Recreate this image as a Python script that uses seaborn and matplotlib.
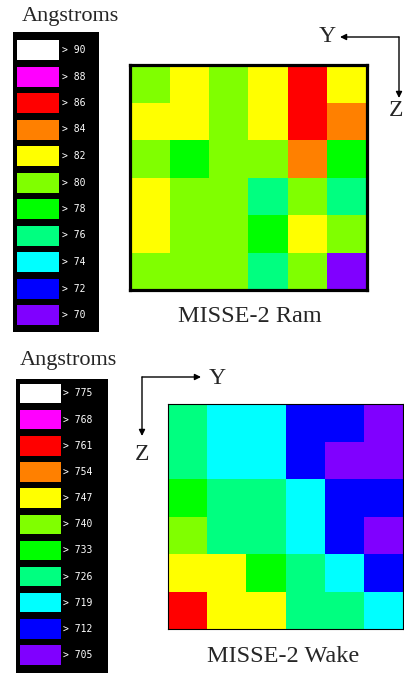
"""
MISSE-2 erosion maps (Ram / Wake) drawn as two 6x6 seaborn heatmaps,
each with a black stepped colour key on the left.
"""

import numpy as np
import matplotlib
matplotlib.use("Agg")
import matplotlib.pyplot as plt
from matplotlib.colors import ListedColormap, BoundaryNorm
import seaborn as sns

# === Data ===

# key colours, lowest level first
level_colors = ["#8000FF", "#0000FF", "#00FFFF", "#00FF80", "#00FF00", "#80FF00",
                "#FFFF00", "#FF8000", "#FF0000", "#FF00FF", "#FFFFFF"]

# lower bound of each colour band (Angstroms)
ram_levels = [70, 72, 74, 76, 78, 80, 82, 84, 86, 88, 90]
wake_levels = [705, 712, 719, 726, 733, 740, 747, 754, 761, 768, 775]

# cell values, rows top -> bottom
ram_values = [
    [81, 83, 81, 83, 87, 83],
    [83, 83, 81, 83, 87, 85],
    [81, 79, 81, 81, 85, 79],
    [83, 81, 81, 77, 81, 77],
    [83, 81, 81, 79, 83, 81],
    [81, 81, 81, 77, 81, 71],
]
wake_values = [
    [729, 722, 722, 715, 715, 708],
    [729, 722, 722, 715, 708, 708],
    [736, 729, 729, 722, 715, 715],
    [743, 729, 729, 722, 715, 708],
    [750, 750, 736, 729, 722, 715],
    [764, 750, 750, 729, 729, 722],
]

titles = ["MISSE-2 Ram", "MISSE-2 Wake"]

# === Figure ===

W, H = 404, 673
fig = plt.figure(figsize=(W / 100, H / 100), dpi=100)
sns.set_style("white")
plt.rcParams["font.family"] = ["Liberation Serif", "DejaVu Serif"]

cmap = ListedColormap(level_colors)


def box(x0, y0, x1, y1):
    # pixel box (top-left origin) -> figure fraction rect
    return [x0 / W, 1 - y1 / H, (x1 - x0) / W, (y1 - y0) / H]


def draw_key(rect, levels, first_center, spacing, sw_left, sw_width, sw_height, label_x):
    ax = fig.add_axes(box(*rect))
    ax.set_facecolor("black")
    box_w = rect[2] - rect[0]
    box_h = rect[3] - rect[1]
    n = len(levels)
    idx = np.arange(n)
    ax.barh(idx, 1, left=0, height=sw_height / spacing,
            color=level_colors[::-1], edgecolor="none")
    top = -first_center / spacing
    ax.set_ylim(top + box_h / spacing, top)
    ax.set_xlim(-sw_left / sw_width, (box_w - sw_left) / sw_width)
    for i, lv in zip(idx, levels[::-1]):
        ax.text((label_x - sw_left) / sw_width, i, f"> {lv}", color="white",
                fontsize=7, family="DejaVu Sans Mono", va="center", ha="left")
    ax.set_xticks([])
    ax.set_yticks([])
    for s in ax.spines.values():
        s.set_visible(False)
    return ax


def draw_map(rect, values, levels, lw):
    ax = fig.add_axes(box(*rect))
    bounds = levels + [levels[-1] + (levels[1] - levels[0])]
    norm = BoundaryNorm(bounds, cmap.N)
    sns.heatmap(np.array(values), cmap=cmap, norm=norm, cbar=False,
                xticklabels=False, yticklabels=False, ax=ax)
    for s in ax.spines.values():
        s.set_visible(True)
        s.set_color("black")
        s.set_linewidth(lw)
    return ax


# --- Ram panel ---
fig.text(70 / W, 1 - 16 / H, "Angstroms", fontsize=16, ha="center", va="center")
draw_key((13, 32, 99, 332), ram_levels, first_center=18, spacing=26.5,
         sw_left=4, sw_width=42, sw_height=20, label_x=49)
draw_map((130, 65, 367, 290), ram_values, ram_levels, lw=2.3)
fig.text(250 / W, 1 - 316 / H, titles[0], fontsize=17.5, ha="center", va="center")

arrow = dict(arrowstyle="-|>", color="black", lw=1, mutation_scale=9, shrinkA=0, shrinkB=0)
fig.add_artist(plt.Annotation("", xy=(340, H - 37), xytext=(399, H - 37),
                              xycoords="figure pixels", arrowprops=arrow))
fig.add_artist(plt.Annotation("", xy=(399, H - 98), xytext=(399, H - 37),
                              xycoords="figure pixels", arrowprops=arrow))
fig.text(327 / W, 1 - 36 / H, "Y", fontsize=17, ha="center", va="center")
fig.text(396 / W, 1 - 111 / H, "Z", fontsize=17, ha="center", va="center")

# --- Wake panel ---
fig.text(68 / W, 1 - 361 / H, "Angstroms", fontsize=16, ha="center", va="center")
draw_key((16, 379, 108, 673), wake_levels, first_center=14.5, spacing=26.15,
         sw_left=4, sw_width=41, sw_height=19.5, label_x=47)
draw_map((168, 404, 403, 629), wake_values, wake_levels, lw=0.8)
fig.text(283 / W, 1 - 657 / H, titles[1], fontsize=17.5, ha="center", va="center")

fig.add_artist(plt.Annotation("", xy=(201, H - 377), xytext=(142, H - 377),
                              xycoords="figure pixels", arrowprops=arrow))
fig.add_artist(plt.Annotation("", xy=(142, H - 436), xytext=(142, H - 377),
                              xycoords="figure pixels", arrowprops=arrow))
fig.text(217 / W, 1 - 379 / H, "Y", fontsize=17, ha="center", va="center")
fig.text(142 / W, 1 - 455 / H, "Z", fontsize=17, ha="center", va="center")

fig.savefig("out.png", dpi=100)
